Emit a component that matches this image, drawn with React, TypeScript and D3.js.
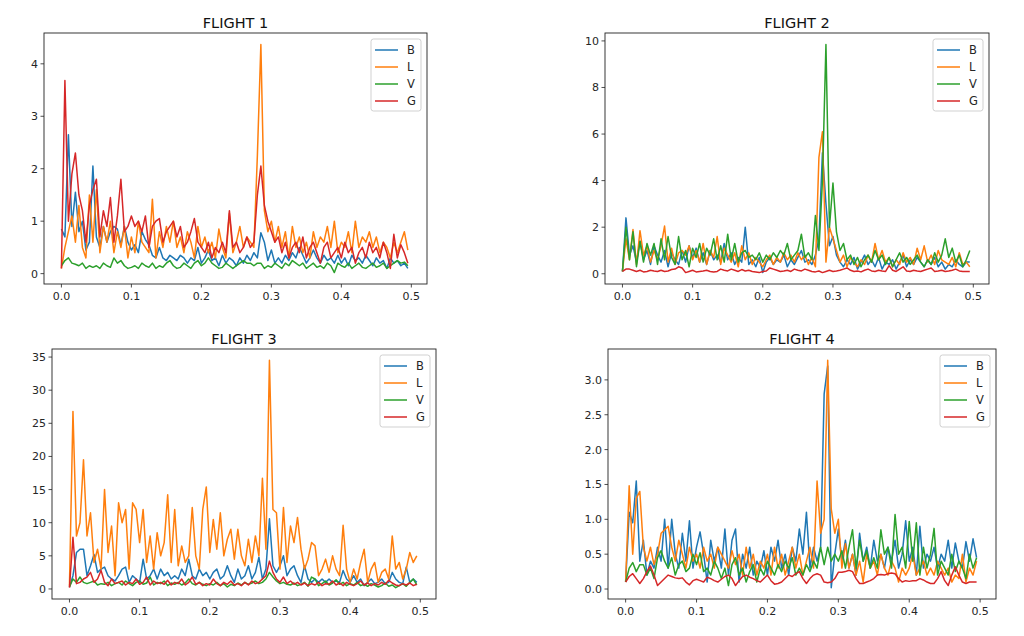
import React from "react";
import * as d3 from "d3";

const SERIES_NAMES = ["B", "L", "V", "G"];
const COLORS = ["#1f77b4", "#ff7f0e", "#2ca02c", "#d62728"];
const TITLES = ["FLIGHT 1", "FLIGHT 2", "FLIGHT 3", "FLIGHT 4"];
const X_TICKS = [0, 0.1, 0.2, 0.3, 0.4, 0.5];
const Y_TICKS_1 = [0, 1, 2, 3, 4];
const Y_TICKS_2 = [0, 2, 4, 6, 8, 10];
const Y_TICKS_3 = [0, 5, 10, 15, 20, 25, 30, 35];
const Y_TICKS_4 = [0, 0.5, 1.0, 1.5, 2.0, 2.5, 3.0];
const FREQ_STEP = 0.005; // frequency bin width

// ---- FLIGHT 1 ----
const f1B = [0.85,0.7,2.65,0.9,1.55,0.8,1.0,0.45,0.6,2.05,
 0.7,0.5,0.9,0.6,0.8,0.9,0.85,0.55,0.9,0.6,
 0.45,0.55,0.4,0.8,0.65,0.55,0.35,0.3,0.5,0.3,
 0.25,0.35,0.3,0.25,0.35,0.3,0.2,0.3,0.25,0.5,
 0.2,0.3,0.45,0.25,0.3,0.15,0.35,0.2,0.3,0.25,
 0.15,0.3,0.2,0.35,0.25,0.4,0.3,0.78,0.6,0.25,
 0.45,0.2,0.3,0.2,0.35,0.25,0.4,0.3,0.5,0.35,
 0.2,0.3,0.45,0.3,0.2,0.35,0.25,0.3,0.2,0.35,
 0.2,0.3,0.15,0.35,0.25,0.3,0.2,0.35,0.25,0.15,
 0.3,0.2,0.25,0.1,0.3,0.2,0.25,0.15,0.2,0.1];
const f1L = [0.1,0.5,0.8,1.1,0.6,1.3,0.5,0.3,1.5,0.6,
 1.6,0.4,0.9,0.6,1.0,0.4,0.8,0.5,0.9,0.3,
 0.7,0.4,1.0,0.6,0.5,0.4,1.42,0.3,0.8,0.5,
 0.9,0.6,1.0,0.5,0.7,0.4,0.8,0.6,0.3,0.9,
 0.5,0.7,0.4,0.6,0.3,0.85,0.5,0.3,1.15,0.4,
 0.6,0.9,0.5,0.7,0.6,0.5,2.25,4.37,1.2,0.8,
 1.0,0.6,0.9,0.5,0.8,0.3,0.9,0.5,0.7,0.4,
 0.6,0.3,0.8,0.5,0.7,0.6,0.9,0.5,1.0,0.4,
 0.6,0.5,0.8,0.4,1.0,0.5,0.7,0.6,0.8,0.5,
 0.7,0.4,0.6,0.5,0.3,0.6,0.4,0.6,0.8,0.45];
const f1V = [0.15,0.25,0.3,0.2,0.18,0.15,0.2,0.1,0.15,0.12,
 0.15,0.1,0.2,0.15,0.12,0.3,0.2,0.25,0.15,0.1,
 0.12,0.15,0.1,0.2,0.15,0.12,0.2,0.1,0.15,0.12,
 0.2,0.25,0.15,0.1,0.12,0.2,0.15,0.1,0.2,0.25,
 0.15,0.2,0.3,0.2,0.15,0.1,0.12,0.2,0.15,0.1,
 0.15,0.2,0.25,0.2,0.2,0.15,0.2,0.2,0.1,0.15,
 0.12,0.2,0.15,0.1,0.2,0.15,0.25,0.2,0.15,0.2,
 0.1,0.15,0.2,0.12,0.15,0.1,0.2,0.15,0.02,0.2,
 0.15,0.12,0.2,0.1,0.15,0.2,0.12,0.1,0.15,0.2,
 0.12,0.15,0.2,0.1,0.15,0.2,0.25,0.2,0.22,0.15];
const f1G = [0.1,3.68,1.0,1.9,2.3,1.5,1.2,0.6,1.3,1.6,
 1.8,0.7,1.2,0.9,1.45,0.6,1.1,1.8,0.8,0.9,
 1.1,0.9,1.0,0.8,1.1,0.5,0.9,1.0,1.05,0.6,
 0.8,0.9,1.0,0.7,0.9,0.5,0.6,0.8,1.05,0.6,
 0.5,0.4,0.6,0.3,0.5,0.4,0.6,0.4,1.2,0.5,
 0.6,0.4,0.5,0.7,0.5,0.6,1.5,2.05,1.3,1.0,
 0.8,0.6,0.7,0.4,0.6,0.3,0.5,0.6,0.4,0.7,
 0.3,0.5,0.6,0.4,0.2,0.5,0.6,0.3,0.4,0.5,
 0.3,0.6,0.4,0.5,0.2,0.4,0.5,0.3,0.6,0.4,
 0.5,0.3,0.6,0.4,0.1,0.75,0.3,0.55,0.4,0.2];

// ---- FLIGHT 2 ----
const f2B = [0.1,2.4,0.8,1.2,0.5,1.4,0.6,1.0,0.4,1.2,
 0.8,0.5,1.0,0.3,0.9,0.6,0.4,1.0,0.5,1.2,
 0.7,1.1,0.5,0.9,0.4,1.0,0.6,0.8,0.5,1.3,
 0.6,0.9,0.4,0.7,0.5,2.0,0.4,0.6,0.3,0.7,
 0.05,0.5,0.7,0.4,0.6,0.5,0.8,0.3,0.6,0.4,
 0.7,1.0,0.5,0.6,0.4,0.8,1.5,5.2,3.0,1.2,
 1.6,0.8,0.5,0.3,0.6,0.4,0.7,0.2,0.5,0.8,
 0.4,0.6,0.3,0.7,0.2,0.5,0.4,0.6,0.2,0.5,
 0.8,0.3,0.6,0.4,0.7,0.5,0.3,0.6,0.4,0.7,
 0.3,0.5,0.2,0.4,0.3,0.6,0.4,0.3,0.5,0.5];
const f2L = [0.1,1.5,0.6,1.9,0.4,1.85,0.8,1.2,0.5,1.0,
 0.6,1.2,2.05,0.5,1.1,0.4,0.9,1.0,0.8,1.2,
 0.6,1.0,0.5,1.3,0.4,1.0,0.7,1.6,0.4,1.1,
 0.8,0.5,0.9,0.3,1.2,0.6,0.9,0.4,0.7,0.5,
 0.3,0.6,0.8,0.4,0.7,0.5,0.9,0.6,0.8,0.5,
 0.9,0.6,0.8,0.4,0.7,0.3,5.0,6.1,0.5,2.0,
 1.5,1.0,0.5,0.8,0.3,0.7,0.5,0.3,0.6,0.4,
 0.8,0.5,1.3,0.6,1.0,0.5,0.7,0.3,0.6,0.4,
 0.9,0.5,0.7,0.4,1.1,0.6,1.2,0.5,0.8,0.4,
 1.0,0.6,0.5,0.4,0.7,0.3,0.9,0.4,0.5,0.3];
const f2V = [0.1,2.0,0.6,1.8,0.3,1.4,0.5,1.3,0.8,1.3,
 0.4,1.5,0.6,1.6,0.7,0.4,1.6,0.6,1.0,0.3,
 1.1,0.7,1.3,0.5,1.1,0.8,1.5,0.6,1.2,0.5,
 1.7,0.6,1.3,0.5,0.9,1.0,0.7,0.8,0.6,0.9,
 0.5,0.8,0.6,0.9,0.7,1.0,0.8,1.3,0.6,0.8,
 1.0,1.7,0.7,0.9,0.6,2.5,1.0,4.0,9.85,2.0,
 3.9,1.8,1.0,1.3,0.6,0.8,0.4,0.7,0.3,0.6,
 0.8,0.5,1.0,0.6,0.8,0.4,0.7,0.3,0.6,0.9,
 0.5,0.7,0.4,0.6,0.8,0.5,0.3,0.6,0.4,0.9,
 0.5,0.8,1.5,0.7,1.1,0.5,0.8,0.3,0.6,1.0];
const f2G = [0.1,0.2,0.2,0.15,0.1,0.15,0.08,0.1,0.15,0.12,
 0.1,0.15,0.1,0.12,0.18,0.2,0.3,0.25,0.05,0.1,
 0.15,0.08,0.1,0.12,0.15,0.1,0.08,0.1,0.2,0.15,
 0.12,0.2,0.15,0.1,0.18,0.12,0.15,0.1,0.08,0.05,
 0.1,0.12,0.25,0.2,0.15,0.1,0.12,0.15,0.1,0.2,
 0.15,0.12,0.2,0.15,0.1,0.08,0.12,0.05,0.1,0.15,
 0.1,0.12,0.15,0.2,0.25,0.15,0.1,0.12,0.08,0.15,
 0.2,0.12,0.1,0.15,0.12,0.1,0.35,0.15,0.1,0.2,
 0.3,0.12,0.1,0.15,0.12,0.1,0.15,0.2,0.25,0.1,
 0.12,0.15,0.1,0.12,0.15,0.2,0.12,0.1,0.1,0.1];

// ---- FLIGHT 3 ----
const f3B = [0.3,2.0,5.5,6.0,6.0,2.0,3.5,5.2,2.5,3.0,
 3.3,2.0,1.5,1.2,2.0,3.0,3.3,1.0,2.0,1.5,
 1.0,4.5,1.5,2.0,3.0,1.5,3.0,2.0,2.5,1.5,
 2.0,1.5,3.0,2.0,4.5,2.0,1.5,3.0,2.0,2.5,
 1.5,2.5,3.0,1.5,2.0,3.5,2.0,1.0,3.0,1.5,
 2.0,3.5,1.5,2.5,4.8,1.5,3.0,10.6,3.5,2.5,
 3.5,5.0,2.0,3.0,3.5,2.0,1.0,3.5,1.5,1.0,
 1.5,1.0,1.5,1.0,1.5,1.0,1.2,1.0,2.8,1.5,
 1.0,2.0,1.0,1.5,0.5,1.0,1.5,0.8,1.0,1.5,
 0.8,1.0,2.5,1.5,1.0,0.8,3.3,1.0,1.5,1.0];
const f3L = [0.5,26.8,8.0,10.0,19.5,8.0,11.5,4.0,6.0,3.0,
 15.0,5.5,9.5,2.0,13.0,10.0,12.0,3.0,13.0,12.0,
 7.0,12.0,4.0,8.0,3.0,8.5,5.0,7.0,14.2,4.0,
 12.0,3.5,6.5,4.0,5.0,12.3,5.0,3.0,12.0,15.4,
 5.5,10.5,6.0,11.5,5.0,7.5,9.0,4.5,9.0,5.0,
 3.5,7.5,4.0,8.0,5.0,16.7,6.0,34.5,12.0,11.5,
 3.0,12.3,4.0,9.5,7.0,10.8,6.0,3.0,4.5,7.0,
 6.5,2.0,3.0,4.5,2.5,5.0,3.0,2.0,9.6,3.0,
 1.0,3.0,1.5,4.0,6.0,1.0,3.0,4.0,1.0,2.5,
 3.0,1.5,8.0,3.0,4.0,1.5,3.0,5.5,4.0,5.0];
const f3V = [0.3,1.5,1.0,1.8,1.0,0.8,1.0,1.2,0.6,0.8,
 0.7,1.0,0.5,0.8,1.0,0.6,1.2,0.8,0.5,1.0,
 1.2,0.7,0.9,1.8,0.6,1.0,0.8,1.2,0.5,0.9,
 0.7,1.0,0.6,0.9,1.5,0.8,0.6,1.0,0.7,0.5,
 0.8,0.6,1.0,0.5,0.8,0.3,0.7,0.5,0.9,0.6,
 1.0,0.7,0.9,1.2,0.8,1.0,1.5,2.5,1.8,1.2,
 0.8,1.0,0.7,0.6,0.9,0.5,0.7,1.0,0.4,1.8,
 1.5,0.5,0.8,1.2,0.6,0.9,1.4,0.7,1.0,0.5,
 0.8,0.6,1.0,0.5,0.7,0.4,0.8,0.6,0.3,0.5,
 0.9,0.4,0.6,0.2,0.5,0.8,0.4,1.0,1.5,0.6];
const f3G = [0.2,7.8,0.8,1.0,1.5,1.8,2.5,1.0,1.5,2.8,
 1.0,0.5,1.5,0.8,1.0,1.2,0.6,1.0,0.8,1.5,
 0.7,1.0,1.8,0.6,1.2,0.8,1.0,0.7,1.3,0.6,
 1.0,0.8,1.5,0.6,1.0,1.8,0.7,1.0,0.5,0.8,
 0.6,1.5,0.8,0.5,1.0,0.7,1.2,0.6,0.8,0.5,
 1.0,0.6,1.2,0.8,1.0,1.5,2.0,4.2,2.5,1.5,
 1.0,1.8,0.8,1.2,0.7,1.0,0.6,0.9,0.5,0.8,
 0.6,1.0,0.5,0.8,0.7,1.2,0.6,0.9,0.5,1.0,
 0.7,0.5,0.8,1.2,0.6,0.9,0.5,0.8,0.6,1.0,
 0.7,1.3,0.9,0.6,0.5,0.8,0.6,0.9,0.5,0.7];

// ---- FLIGHT 4 ----
const f4B = [0.1,1.1,0.95,1.55,0.4,0.7,0.2,0.4,0.3,0.6,
 0.4,1.0,0.3,1.0,0.5,0.3,0.8,0.4,0.98,0.3,
 0.6,0.82,0.5,0.1,0.7,0.4,0.6,0.3,0.86,0.2,
 0.7,0.86,0.1,0.5,0.3,0.6,0.2,0.4,0.3,0.55,
 0.2,0.6,0.4,0.7,0.3,0.5,0.2,0.6,0.4,0.86,
 0.5,1.1,0.3,0.6,0.4,0.6,2.8,3.2,0.02,0.5,
 0.86,0.4,0.7,0.3,0.5,0.2,0.8,0.4,0.6,0.3,
 0.7,0.4,0.5,0.3,0.6,0.4,0.7,0.3,0.5,0.98,
 0.4,0.6,0.2,0.9,0.3,0.5,0.4,0.6,0.3,0.5,
 0.4,0.7,0.3,0.66,0.4,0.3,0.68,0.4,0.72,0.45];
const f4L = [0.1,1.48,0.5,1.3,1.4,0.6,0.4,0.6,0.35,0.5,
 0.8,0.85,0.9,0.6,0.4,0.7,0.5,0.3,0.6,0.4,
 0.5,0.3,0.6,0.4,0.5,0.3,0.6,0.5,0.4,0.3,
 0.55,0.35,0.5,0.2,0.6,0.3,0.5,0.2,0.4,0.3,
 0.5,0.2,0.6,0.3,0.5,0.2,0.4,0.6,0.3,0.5,
 0.2,0.4,0.6,0.3,1.55,0.8,1.0,3.28,1.15,0.8,
 1.0,0.3,0.65,0.3,0.5,0.2,0.4,0.1,0.5,0.3,
 0.4,0.2,0.5,0.3,0.2,0.4,0.3,0.1,0.3,0.2,
 0.3,0.5,0.2,0.3,0.4,0.2,0.3,0.2,0.4,0.3,
 0.2,0.3,0.1,0.2,0.15,0.5,0.1,0.3,0.2,0.4];
const f4V = [0.1,0.3,0.38,0.25,0.35,0.35,0.2,0.3,0.15,0.45,
 0.55,0.4,0.3,0.45,0.2,0.35,0.4,0.25,0.3,0.5,
 0.35,0.52,0.25,0.3,0.2,0.4,0.3,0.15,0.3,0.05,
 0.35,0.45,0.2,0.3,0.1,0.25,0.35,0.1,0.3,0.2,
 0.4,0.3,0.2,0.35,0.25,0.4,0.3,0.45,0.2,0.3,
 0.2,0.35,0.25,0.4,0.3,0.6,0.35,0.6,0.4,0.5,
 0.4,0.55,0.3,0.6,0.85,0.3,0.7,0.4,0.55,0.3,
 0.45,0.3,0.85,0.5,0.6,0.3,1.07,0.5,0.6,0.3,
 0.97,0.4,0.95,0.2,0.6,0.3,0.5,0.87,0.2,0.4,
 0.3,0.2,0.5,0.25,0.4,0.3,0.15,0.5,0.3,0.45];
const f4G = [0.1,0.18,0.22,0.15,0.08,0.15,0.25,0.33,0.2,0.05,
 0.1,0.15,0.2,0.18,0.16,0.15,0.16,0.1,0.06,0.12,
 0.14,0.12,0.1,0.17,0.15,0.12,0.1,0.14,0.18,0.2,
 0.15,0.05,0.12,0.18,0.2,0.17,0.15,0.12,0.1,0.15,
 0.2,0.12,0.07,0.08,0.1,0.15,0.2,0.18,0.22,0.25,
 0.15,0.08,0.15,0.2,0.22,0.2,0.1,0.09,0.1,0.15,
 0.24,0.24,0.25,0.27,0.25,0.15,0.08,0.08,0.1,0.12,
 0.15,0.2,0.21,0.2,0.22,0.23,0.22,0.15,0.1,0.12,
 0.11,0.12,0.12,0.15,0.13,0.1,0.08,0.08,0.15,0.25,
 0.12,0.05,0.2,0.32,0.2,0.1,0.08,0.1,0.1,0.1];

type Panel = {
  title: string;
  series: number[][];
  yTicks: number[];
  yFmt: (v: number) => string;
  frame: { left: number; right: number; top: number; bottom: number };
};

const PANELS: Panel[] = [
  { title: TITLES[0], series: [f1B, f1L, f1V, f1G], yTicks: Y_TICKS_1, yFmt: d3.format("d"), frame: { left: 44, right: 427, top: 33, bottom: 284 } },
  { title: TITLES[1], series: [f2B, f2L, f2V, f2G], yTicks: Y_TICKS_2, yFmt: d3.format("d"), frame: { left: 605, right: 989, top: 33, bottom: 284 } },
  { title: TITLES[2], series: [f3B, f3L, f3V, f3G], yTicks: Y_TICKS_3, yFmt: d3.format("d"), frame: { left: 52, right: 436, top: 349, bottom: 599 } },
  { title: TITLES[3], series: [f4B, f4L, f4V, f4G], yTicks: Y_TICKS_4, yFmt: d3.format(".1f"), frame: { left: 608, right: 996, top: 349, bottom: 599 } },
];

const FONT = "'DejaVu Sans', sans-serif";
const TEXT = "#262626";

function PanelView({ p }: { p: Panel }) {
  const { left, right, top, bottom } = p.frame;
  const n = p.series[0].length;
  const xs = d3.range(n).map((i) => i * FREQ_STEP);
  const xMax = 0.4975;
  const xPad = xMax * 0.05;
  const x = d3.scaleLinear().domain([-xPad, xMax + xPad]).range([left, right]);
  const all = p.series.flat();
  const lo = d3.min(all) as number;
  const hi = d3.max(all) as number;
  const pad = (hi - lo) * 0.05;
  const y = d3.scaleLinear().domain([lo - pad, hi + pad]).range([bottom, top]);
  const line = d3
    .line<number>()
    .x((_, i) => x(xs[i]))
    .y((d) => y(d));
  const xFmt = d3.format(".1f");
  const lgW = 50;
  const lgH = 72;
  const lgX = right - 6 - lgW;
  const lgY = top + 6;
  return (
    <g>
      <text x={(left + right) / 2} y={top - 5} textAnchor="middle" fontFamily={FONT} fontSize={14.5} fill="#111">
        {p.title}
      </text>
      <defs>
        <clipPath id={"clip-" + p.title.replace(" ", "")}>
          <rect x={left} y={top} width={right - left} height={bottom - top} />
        </clipPath>
      </defs>
      <g clipPath={`url(#clip-${p.title.replace(" ", "")})`}>
        {p.series.map((s, k) => (
          <path key={k} d={line(s) || ""} fill="none" stroke={COLORS[k]} strokeWidth={1.5} strokeLinejoin="round" />
        ))}
      </g>
      <rect x={left} y={top} width={right - left} height={bottom - top} fill="none" stroke="#222" strokeWidth={0.9} />
      {X_TICKS.map((t) => (
        <g key={"x" + t}>
          <line x1={x(t)} x2={x(t)} y1={bottom} y2={bottom + 3.5} stroke="#222" strokeWidth={0.8} />
          <text x={x(t)} y={bottom + 16} textAnchor="middle" fontFamily={FONT} fontSize={11} fill={TEXT}>
            {xFmt(t)}
          </text>
        </g>
      ))}
      {p.yTicks.map((t) => (
        <g key={"y" + t}>
          <line x1={left - 3.5} x2={left} y1={y(t)} y2={y(t)} stroke="#222" strokeWidth={0.8} />
          <text x={left - 6} y={y(t) + 4} textAnchor="end" fontFamily={FONT} fontSize={11} fill={TEXT}>
            {p.yFmt(t)}
          </text>
        </g>
      ))}
      <rect x={lgX} y={lgY} width={lgW} height={lgH} rx={2.5} fill="white" fillOpacity={0.8} stroke="#cccccc" strokeWidth={0.9} />
      {SERIES_NAMES.map((name, k) => {
        const ry = lgY + 11 + k * 17;
        return (
          <g key={name}>
            <line x1={lgX + 4} x2={lgX + 27} y1={ry} y2={ry} stroke={COLORS[k]} strokeWidth={1.5} />
            <text x={lgX + 36} y={ry + 4} fontFamily={FONT} fontSize={11.5} fill={TEXT}>
              {name}
            </text>
          </g>
        );
      })}
    </g>
  );
}

export default function App() {
  return (
    <svg
      width={1024}
      height={636}
      viewBox="0 0 1024 636"
      style={{ position: "absolute", left: 0, top: 0, background: "white" }}
    >
      <rect x={0} y={0} width={1024} height={636} fill="white" />
      {PANELS.map((p) => (
        <PanelView key={p.title} p={p} />
      ))}
    </svg>
  );
}
